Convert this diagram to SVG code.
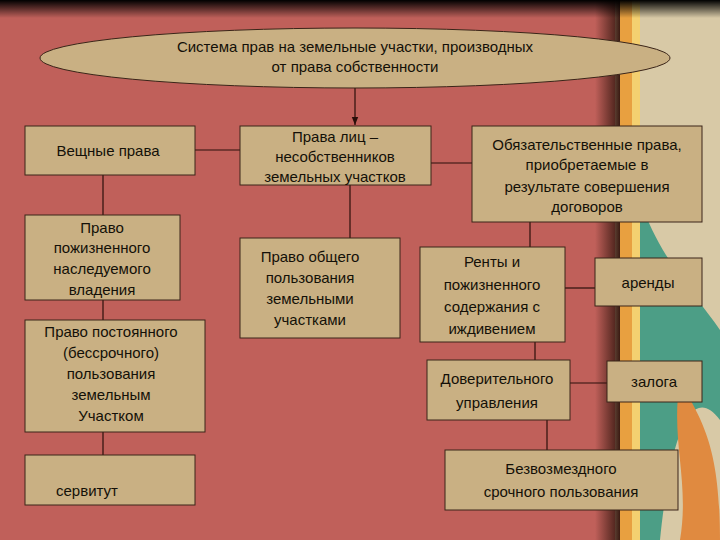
<svg xmlns="http://www.w3.org/2000/svg" width="720" height="540" viewBox="0 0 720 540">
<defs>
<linearGradient id="top" x1="0" y1="0" x2="0" y2="1"><stop offset="0" stop-color="#000"/><stop offset="1" stop-color="#000" stop-opacity="0"/></linearGradient>
<linearGradient id="sh" x1="0" y1="0" x2="1" y2="0"><stop offset="0" stop-color="#3a1a12" stop-opacity="0"/><stop offset="1" stop-color="#3a1a12"/></linearGradient>
<marker id="arr" viewBox="0 0 10 10" refX="10" refY="5" markerWidth="7" markerHeight="7" orient="auto"><path d="M0,1 L10,5 L0,9 z" fill="#2a0f0a"/></marker>
</defs>
<style>
.n{fill:#C9B083;stroke:#3a2418;stroke-width:1}
.t{font-family:"Liberation Sans",Arial,sans-serif;font-size:15px;fill:#141008;text-anchor:middle}
.c{stroke:#2a0f0a;stroke-width:1.2;fill:none}
</style>
<rect width="720" height="540" fill="#C0605A"/>
<rect x="615" width="105" height="540" fill="#D8C9A6"/>
<path d="M620,0 L640,0 L640,540 L620,540 z" fill="#E8A040"/>
<path d="M632,0 L640,0 L640,540 L632,540 z" fill="#F4D070"/>
<path d="M640,200 C660,260 700,300 720,330 L720,420 C690,380 670,440 660,540 L640,540 L640,300 z" fill="#4C9E86"/>
<path d="M680,380 C700,420 720,440 720,540 L680,540 C690,480 670,440 680,380 z" fill="#E08A40"/>
<rect x="595" width="25" height="540" fill="url(#sh)"/>
<rect width="720" height="18" fill="url(#top)"/>
<g id="connectors">
<line class="c" x1="355" y1="88" x2="355" y2="125" marker-end="url(#arr)"/>
<line class="c" x1="195" y1="150" x2="240" y2="150"/>
<line class="c" x1="431" y1="163" x2="472" y2="163"/>
<line class="c" x1="103" y1="175" x2="103" y2="455"/>
<line class="c" x1="350" y1="185" x2="350" y2="238"/>
<line class="c" x1="530" y1="222" x2="530" y2="247"/>
<line class="c" x1="565" y1="288" x2="595" y2="288"/>
<line class="c" x1="535" y1="342" x2="535" y2="360"/>
<line class="c" x1="570" y1="383" x2="607" y2="383"/>
<line class="c" x1="547" y1="420" x2="547" y2="450"/>
</g>
<g id="root"><ellipse class="n" cx="355" cy="58" rx="315" ry="30"/>
<text class="t" x="355" y="52">Система прав на земельные участки, производных</text>
<text class="t" x="355" y="72">от права собственности</text></g>
<g id="veshch"><rect class="n" x="25" y="126" width="170" height="49"/><text class="t" x="108" y="156">Вещные права</text></g>
<g id="pravalic"><rect class="n" x="240" y="126" width="191" height="59"/>
<text class="t" x="335" y="142">Права лиц –</text><text class="t" x="335" y="162">несобственников</text><text class="t" x="335" y="182">земельных участков</text></g>
<g id="obyaz"><rect class="n" x="472" y="126" width="230" height="96"/>
<text class="t" x="587" y="150">Обязательственные права,</text><text class="t" x="587" y="170">приобретаемые в</text><text class="t" x="587" y="192">результате совершения</text><text class="t" x="587" y="212">договоров</text></g>
<g id="pozh"><rect class="n" x="25" y="215" width="155" height="85"/>
<text class="t" x="102" y="233">Право</text><text class="t" x="102" y="253">пожизненного</text><text class="t" x="102" y="274">наследуемого</text><text class="t" x="102" y="295">владения</text></g>
<g id="post"><rect class="n" x="25" y="320" width="180" height="112"/>
<text class="t" x="111" y="337">Право постоянного</text><text class="t" x="111" y="358">(бессрочного)</text><text class="t" x="111" y="379">пользования</text><text class="t" x="111" y="400">земельным</text><text class="t" x="111" y="421">Участком</text></g>
<g id="serv"><rect class="n" x="25" y="455" width="170" height="50"/><text class="t" x="87" y="496">сервитут</text></g>
<g id="obshch"><rect class="n" x="240" y="238" width="160" height="100"/>
<text class="t" x="310" y="262">Право общего</text><text class="t" x="310" y="283">пользования</text><text class="t" x="310" y="304">земельными</text><text class="t" x="310" y="325">участками</text></g>
<g id="renty"><rect class="n" x="420" y="247" width="145" height="95"/>
<text class="t" x="492" y="267">Ренты и</text><text class="t" x="492" y="290">пожизненного</text><text class="t" x="492" y="312">содержания с</text><text class="t" x="492" y="334">иждивением</text></g>
<g id="arendy"><rect class="n" x="595" y="258" width="107" height="48"/><text class="t" x="648" y="288">аренды</text></g>
<g id="dover"><rect class="n" x="427" y="360" width="143" height="60"/>
<text class="t" x="497" y="384">Доверительного</text><text class="t" x="497" y="408">управления</text></g>
<g id="zaloga"><rect class="n" x="607" y="361" width="95" height="41"/><text class="t" x="654" y="387">залога</text></g>
<g id="bezv"><rect class="n" x="445" y="450" width="233" height="60"/>
<text class="t" x="561" y="474">Безвозмездного</text><text class="t" x="561" y="497">срочного пользования</text></g>
</svg>
